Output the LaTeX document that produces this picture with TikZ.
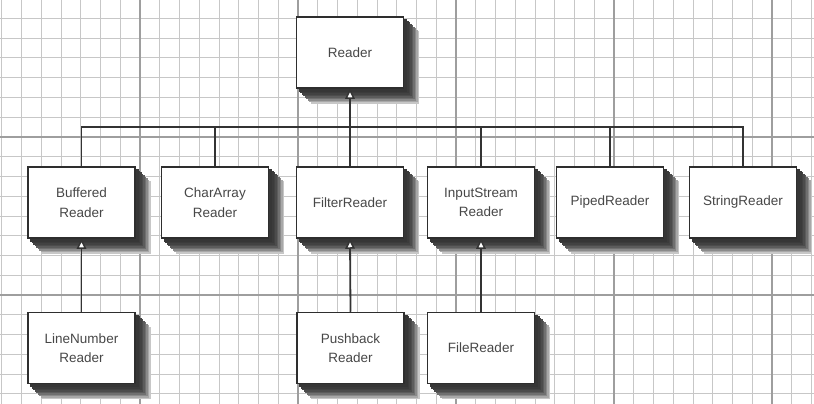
\documentclass[tikz,border=0pt]{standalone}
\usepackage{fontspec}
\setmainfont{Liberation Sans}
\usetikzlibrary{arrows.meta,backgrounds}
\begin{document}
\begin{tikzpicture}[x=1pt,y=-1pt,
  minorline/.style={draw=black!22, line width=1pt},
  majorline/.style={draw=black!38, line width=1.2pt},
  cls/.style={draw=black!82, line width=1.5pt, fill=white,
    minimum width=107pt, minimum height=71pt, inner sep=0pt, align=center,
    font=\fontsize{13.5}{19.5}\selectfont, text=black!72},
  link/.style={draw=black!80, line width=1.8pt},
  inh/.style={link, -{Triangle[open, width=9.5pt, length=10pt, line width=1.5pt, fill=white]}}]
\useasboundingbox (0,0) rectangle (814,404);
% classes
\node[cls] (reader) at (350,52.5) {Reader};
\node[cls] (buffered) at (81.5,202.5) {Buffered\\Reader};
\node[cls] (chararray) at (215,202.5) {CharArray\\Reader};
\node[cls] (filter) at (350,202.5) {FilterReader};
\node[cls] (input) at (481,202.5) {InputStream\\Reader};
\node[cls] (piped) at (610,202.5) {PipedReader};
\node[cls] (string) at (743,202.5) {StringReader};
\node[cls] (linenum) at (81.5,348) {LineNumber\\Reader};
\node[cls] (pushback) at (350.5,348) {Pushback\\Reader};
\node[cls] (file) at (481,348) {FileReader};
\begin{scope}[on background layer]
  \fill[white] (0,0) rectangle (814,404);
  \foreach \i in {0,...,41} \draw[minorline] ({1.75+19.75*\i},0) -- ({1.75+19.75*\i},404);
  \foreach \j in {0,...,20} \draw[minorline] (0,{-1.25+19.75*\j}) -- (814,{-1.25+19.75*\j});
  \foreach \x in {140,298,456,614,772} \draw[majorline] (\x,0) -- (\x,404);
  \foreach \y in {137,295} \draw[majorline] (0,\y) -- (814,\y);
  \foreach \n in {reader,buffered,chararray,filter,input,piped,string,linenum,pushback,file}
    \foreach \k/\g in {15/22,13.5/34,12/46,10.5/56,9/64,7.5/70,6/74,4.5/77,3/79}
      \fill[black!\g] ([xshift=\k pt,yshift=-\k pt]\n.north west) rectangle ([xshift=\k pt,yshift=-\k pt]\n.south east);
\end{scope}
% connectors
\coordinate (bus) at (350,127);
\draw[link] (buffered.north) |- (bus) -| (string.north);
\foreach \n in {chararray,filter,input,piped} \draw[link] (\n.north) -- (\n.north |- bus);
\draw[inh] (bus) -- (reader.south);
\draw[inh] (linenum.north) -- (buffered.south);
\draw[inh] (pushback.north) -- (filter.south);
\draw[inh] (file.north) -- (input.south);
\end{tikzpicture}
\end{document}
